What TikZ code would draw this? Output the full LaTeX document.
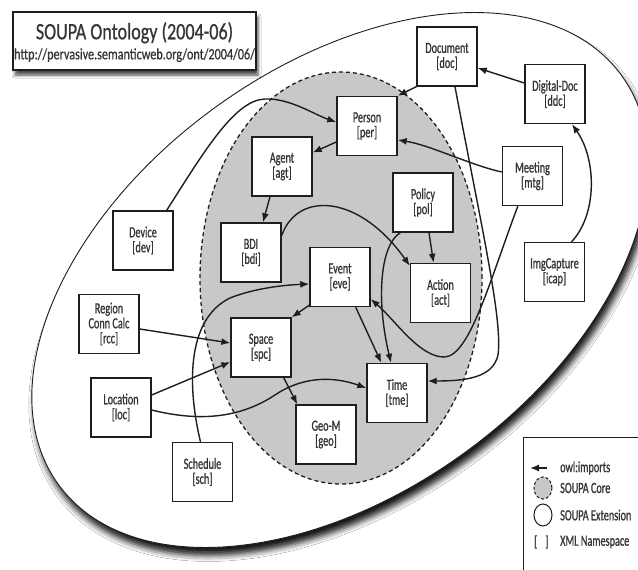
\documentclass[tikz,border=0pt]{standalone}
\usepackage{fontspec}
\setmainfont{Carlito}[FakeStretch=0.77, FakeBold=0.6]
\newfontfamily\boxfont{Carlito}[FakeStretch=0.66, FakeBold=0.8]
\usetikzlibrary{arrows.meta,calc,shadows.blur}

\definecolor{ink}{HTML}{1E1E1E}
\definecolor{corefill}{HTML}{C8C8C8}

\begin{document}
\begin{tikzpicture}[x=1pt,y=-1pt,
  ont/.style={draw=ink, line width=1.4pt, fill=white, minimum width=60pt,
    minimum height=59pt, inner sep=0pt, align=center, text=ink!90,
    font=\boxfont\fontsize{15.5}{15}\selectfont},
  imp/.style={draw=ink, line width=1.4pt, -{Latex[length=9pt,width=7pt]}},
  legtext/.style={anchor=west, inner sep=0pt, text=ink!90,
    font=\boxfont\fontsize{15.5}{15}\selectfont}
]
\useasboundingbox (0,0) rectangle (638,570);
\fill[white] (0,0) rectangle (638,570);

% SOUPA extension region
\coordinate (oc) at (340,280);
\draw[ink, line width=0.9pt, fill=white,
  blur shadow={shadow xshift=3pt, shadow yshift=-8pt, shadow blur radius=6pt, shadow opacity=90},
  rotate around={36:(oc)}] (oc) ellipse [x radius=348pt, y radius=213pt];

% SOUPA core region
\draw[ink, line width=1.3pt, dash pattern=on 4pt off 3pt, fill=corefill]
  (341,278) ellipse [x radius=141pt, y radius=206pt];

% title block
\node[draw=ink, line width=1.4pt, fill=white, minimum width=243pt, minimum height=58pt,
  blur shadow={shadow xshift=2pt, shadow yshift=-5pt, shadow blur radius=3pt, shadow opacity=70}]
  (title) at (134.5,41) {};
\node[anchor=base, inner sep=0pt, text=ink!90, font=\fontsize{23.5}{24}\selectfont] (titletext)
  at ($(title.north)+(0,28)$) {SOUPA Ontology (2004-06)};
\node[anchor=base, inner sep=0pt, text=ink!90, font=\fontsize{15.8}{16}\selectfont] (url)
  at ($(title.north)+(0,48)$) {http://pervasive.semanticweb.org/ont/2004/06/};

% ontologies
\node[ont] (doc)  at (447,56.5)  {Document\\{}[doc]};
\node[ont] (ddc)  at (555,94)    {Digital-Doc\\{}[ddc]};
\node[ont] (per)  at (367,126)   {Person\\{}[per]};
\node[ont] (mtg)  at (532.5,176) {Meeting\\{}[mtg]};
\node[ont] (agt)  at (282,166.5) {Agent\\{}[agt]};
\node[ont] (pol)  at (423,202.5) {Policy\\{}[pol]};
\node[ont] (bdi)  at (251,252.5) {BDI\\{}[bdi]};
\node[ont] (eve)  at (340,277)   {Event\\{}[eve]};
\node[ont] (act)  at (440.5,293) {Action\\{}[act]};
\node[ont] (tme)  at (397,393)   {Time\\{}[tme]};
\node[ont] (spc)  at (261,347.5) {Space\\{}[spc]};
\node[ont] (rcc)  at (109,324)   {Region\\Conn Calc\\{}[rcc]};
\node[ont] (loc)  at (121,407.5) {Location\\{}[loc]};
\node[ont] (dev)  at (143,240.5) {Device\\{}[dev]};
\node[ont] (geo)  at (326,434.5) {Geo-M\\{}[geo]};
\node[ont] (sch)  at (202.5,472) {Schedule\\{}[sch]};
\node[ont] (icap) at (554.5,272) {ImgCapture\\{}[icap]};

% owl:imports relations
\draw[imp] (doc.south west) -- (per.north east);
\draw[imp] ($(ddc.west)+(0,-11)$) -- ($(doc.east)+(0,11.5)$);
\draw[imp] ($(mtg.west)+(0,-4)$) .. controls (470,165) and (430,145) .. ($(per.east)+(0,14)$);
\draw[imp] ($(per.west)+(0,16)$) -- ($(agt.east)+(0,-14)$);
\draw[imp] ($(agt.south)+(-12,0)$) -- ($(bdi.north)+(12,0)$);
\draw[imp] ($(pol.south)+(6,0)$) -- ($(act.north)+(-7,0)$);
\draw[imp] ($(bdi.east)+(0,-17)$) .. controls (298,190) and (360,195) .. ($(act.north west)+(0,3)$);
\draw[imp] ($(eve.south west)+(0,-2)$) -- (spc.north east);
\draw[imp] ($(eve.south east)+(-15,0)$) -- ($(tme.north west)+(15,0)$);
\draw[imp] ($(pol.south west)+(8,0)$) .. controls (380,245) and (376,300) .. ($(tme.north)+(-6,0)$);
\draw[imp] ($(mtg.south west)+(16,0)$) .. controls (490,280) and (470,355) .. (445,357)
  .. controls (420,358) and (395,320) .. ($(eve.east)+(0,22)$);
\draw[imp] ($(doc.south)+(8,0)$) .. controls (480,220) and (503,320) .. (498,355)
  .. controls (493,378) and (465,381) .. ($(tme.east)+(0,-12)$);
\draw[imp] ($(icap.north)+(17,0)$) .. controls (597,215) and (597,160) .. ($(ddc.south)+(17,0)$);
\draw[imp] ($(dev.north east)+(-7,0)$) .. controls (205,150) and (235,100) .. (265,99)
  .. controls (290,98) and (315,115) .. ($(per.west)+(0,-4)$);
\draw[imp] ($(rcc.east)+(0,5)$) -- ($(spc.west)+(0,-4.5)$);
\draw[imp] ($(loc.east)+(0,-12.5)$) -- ($(spc.west)+(0,14.5)$);
\draw[imp] ($(loc.east)+(0,2.5)$) .. controls (200,422) and (240,418) .. (275,395)
  .. controls (300,378) and (330,375) .. ($(tme.west)+(0,-5)$);
\draw[imp] ($(sch.north)+(-2,0)$) .. controls (188,390) and (185,320) .. (230,298)
  .. controls (255,288) and (285,285) .. ($(eve.west)+(0,7)$);
\draw[imp] ($(spc.south east)+(-8,0)$) -- ($(geo.north west)+(2,0)$);

% legend
\node[draw=ink, line width=1.4pt, fill=white, anchor=north west,
  minimum width=125pt, minimum height=140pt, inner sep=0pt] (legend) at (523,437) {};
\coordinate (lgA) at ($(legend.north west)+(24,31)$);
\coordinate (lgB) at ($(legend.north west)+(7,31)$);
\draw[imp] (lgA) -- (lgB);
\node[legtext] (lgimp) at ($(legend.north west)+(37,31)$) {owl:imports};
\draw[ink, line width=1pt, dash pattern=on 3pt off 2pt, fill=corefill]
  ($(legend.north west)+(20,51)$) ellipse [x radius=9pt, y radius=11pt];
\node[legtext] (lgcore) at ($(legend.north west)+(37,51)$) {SOUPA Core};
\draw[ink, line width=1pt, fill=white]
  ($(legend.north west)+(20,78)$) ellipse [x radius=9pt, y radius=11pt];
\node[legtext] (lgext) at ($(legend.north west)+(37,78)$) {SOUPA Extension};
\node[legtext] (lgbr) at ($(legend.north west)+(11,105)$) {[\hspace{8pt}]};
\node[legtext] (lgns) at ($(legend.north west)+(37,105)$) {XML Namespace};
\end{tikzpicture}
\end{document}
